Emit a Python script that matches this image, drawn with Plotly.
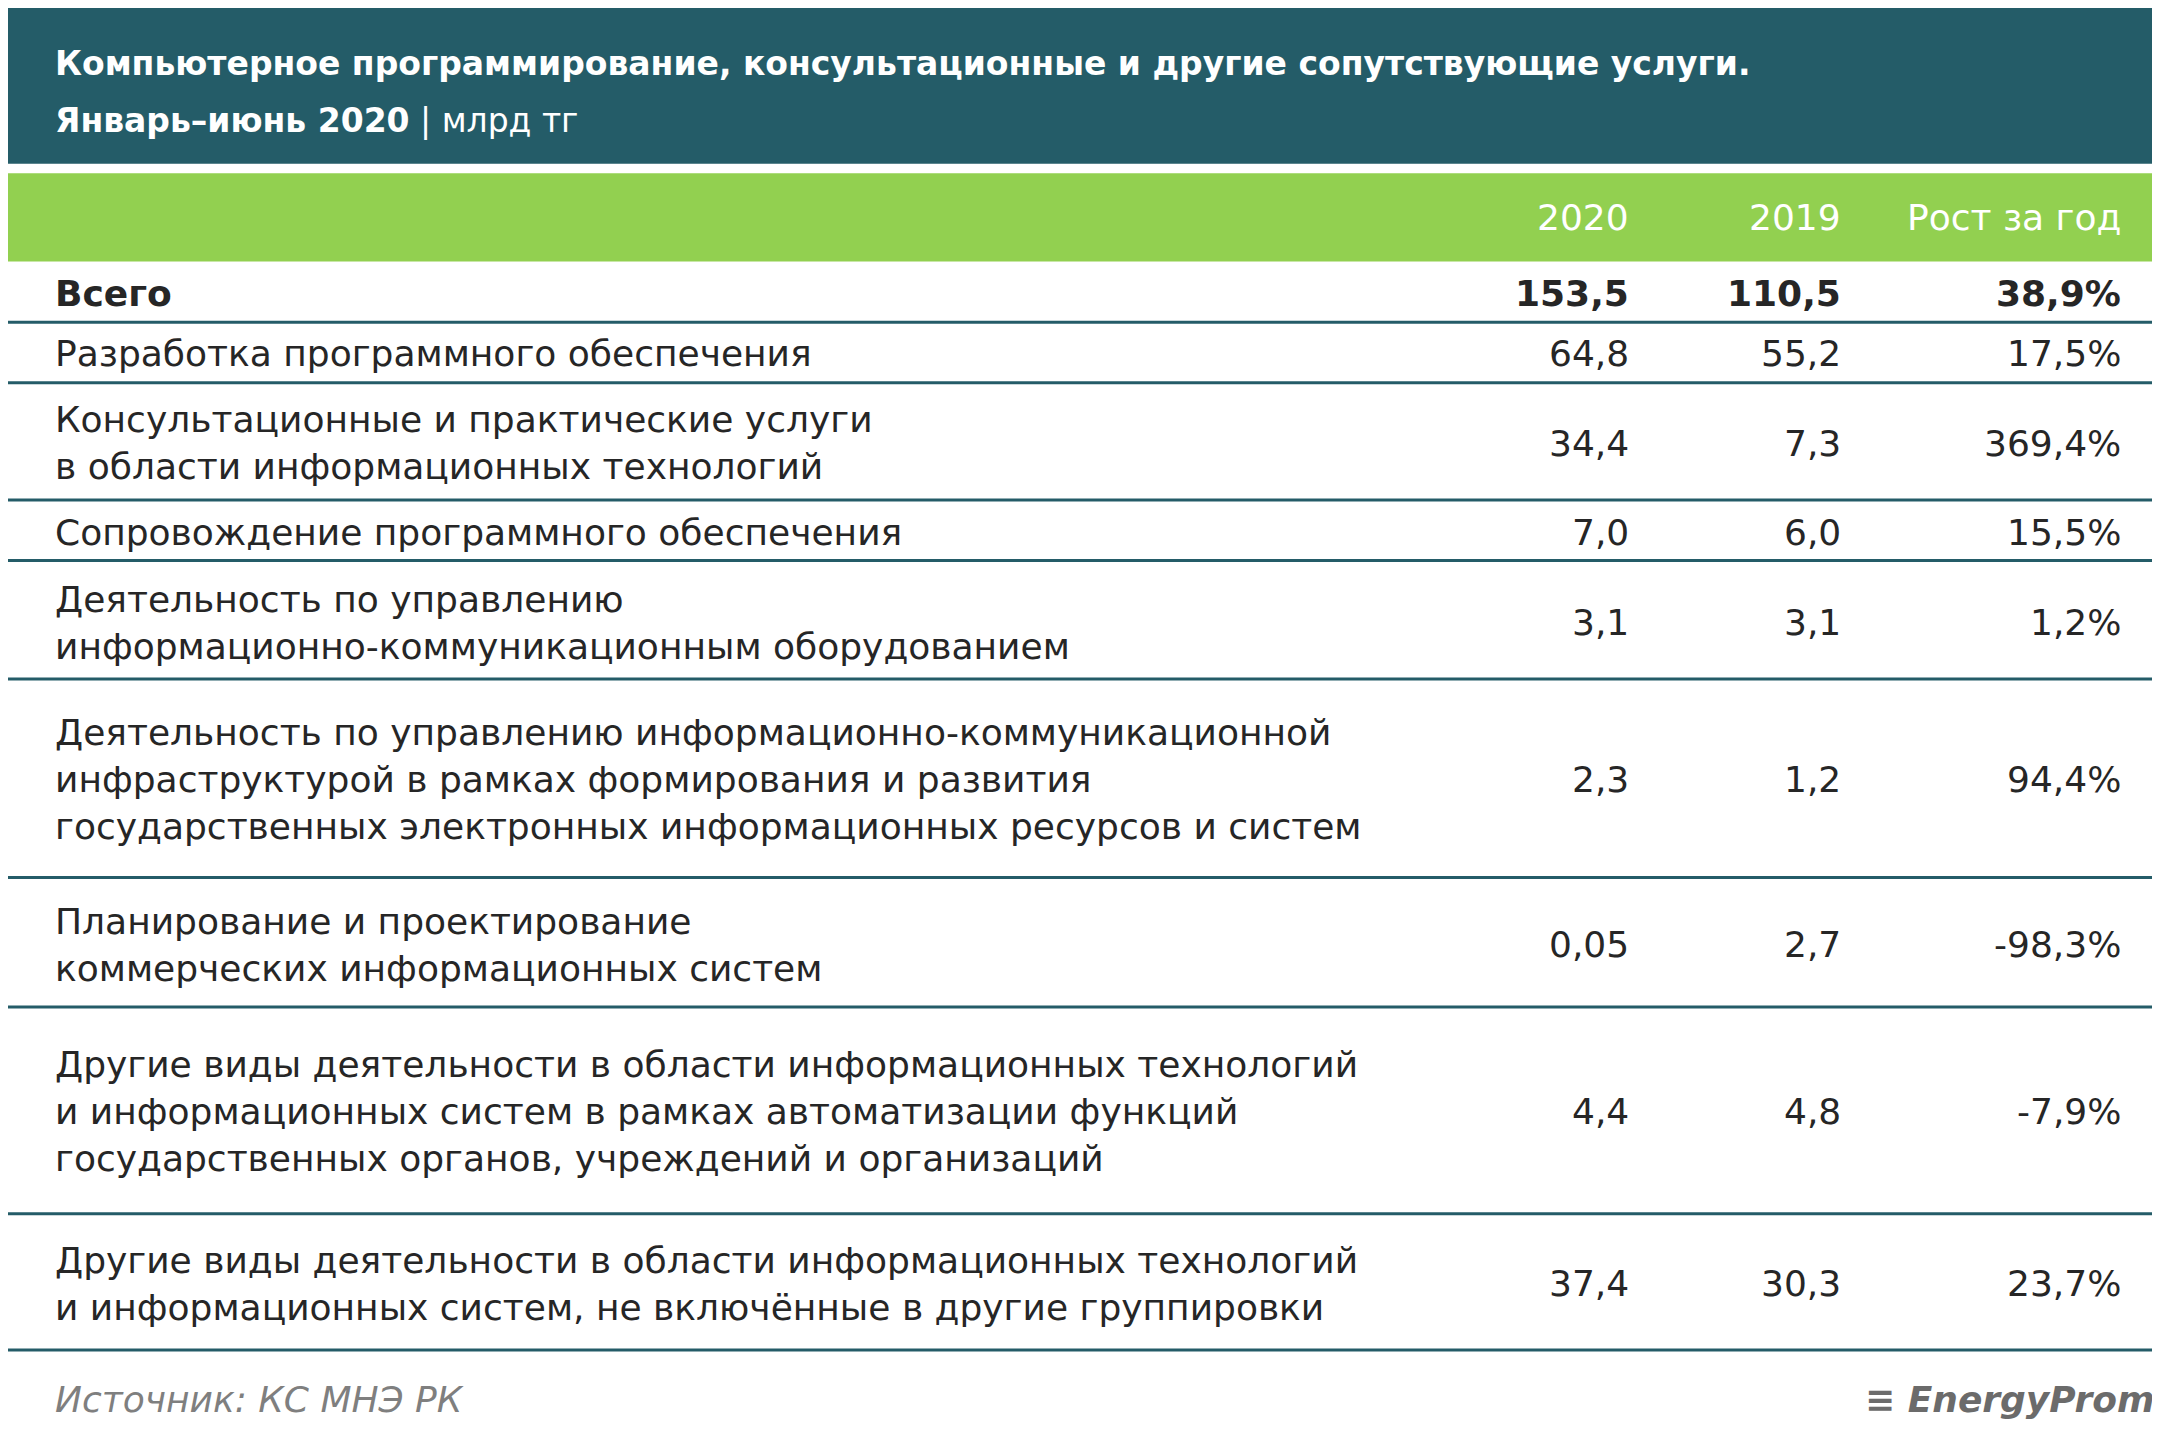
import plotly.graph_objects as go

# Данные таблицы
title_lines = ["Компьютерное программирование, консультационные и другие сопутствующие услуги.",
               "Январь–июнь 2020 | млрд тг"]
columns = ["2020", "2019", "Рост за год"]
categories = [
    "Всего",
    "Разработка программного обеспечения",
    "Консультационные и практические услуги<br>в области информационных технологий",
    "Сопровождение программного обеспечения",
    "Деятельность по управлению<br>информационно-коммуникационным оборудованием",
    "Деятельность по управлению информационно-коммуникационной<br>инфраструктурой в рамках формирования и развития<br>государственных электронных информационных ресурсов и систем",
    "Планирование и проектирование<br>коммерческих информационных систем",
    "Другие виды деятельности в области информационных технологий<br>и информационных систем в рамках автоматизации функций<br>государственных органов, учреждений и организаций",
    "Другие виды деятельности в области информационных технологий<br>и информационных систем, не включённые в другие группировки",
]
values_2020 = ["153,5", "64,8", "34,4", "7,0", "3,1", "2,3", "0,05", "4,4", "37,4"]
values_2019 = ["110,5", "55,2", "7,3", "6,0", "3,1", "1,2", "2,7", "4,8", "30,3"]
growth = ["38,9%", "17,5%", "369,4%", "15,5%", "1,2%", "94,4%", "-98,3%", "-7,9%", "23,7%"]
source = "Источник: КС МНЭ РК"

W, H = 1568.0, 1048.0  # координаты по эскизу
def px(x): return x / W
def py(y): return 1 - y / H

DARK = "#245c68"
GREEN = "#92d050"
TEXT = "#262626"
FONT = "DejaVu Sans"
FS = 36

# центры строк и линии под ними
row_centers = [207, 251, 316, 381, 446, 560, 680, 801, 926]
row_lines = [228, 272, 357, 401, 487, 631, 725, 875, 974]
col_right = [1178, 1332, 1535]

fig = go.Figure()
shapes = [
    dict(type="rect", xref="paper", yref="paper", x0=0, x1=1, y0=py(113), y1=1,
         fillcolor=DARK, line_width=0, layer="below"),
    dict(type="rect", xref="paper", yref="paper", x0=0, x1=1, y0=py(184), y1=py(120),
         fillcolor=GREEN, line_width=0, layer="below"),
    dict(type="line", xref="paper", yref="paper", x0=0, x1=1, y0=py(1044), y1=py(1044),
         line=dict(color=DARK, width=5)),
]
for yl in row_lines:
    shapes.append(dict(type="line", xref="paper", yref="paper", x0=0, x1=1,
                       y0=py(yl), y1=py(yl), line=dict(color=DARK, width=3)))

ann = []
ann.append(dict(x=px(33), y=py(40), text="<b>" + title_lines[0] + "</b>", xanchor="left",
                yanchor="middle", font=dict(color="white", size=33, family=FONT)))
ann.append(dict(x=px(33), y=py(82), text="<b>Январь–июнь 2020</b> | млрд тг", xanchor="left",
                yanchor="middle", font=dict(color="white", size=33, family=FONT)))
for c, xr in zip(columns, col_right):
    ann.append(dict(x=px(xr), y=py(152), text=c, xanchor="right", yanchor="middle",
                    font=dict(color="white", size=FS, family=FONT)))
for i, (cat, a, b, g) in enumerate(zip(categories, values_2020, values_2019, growth)):
    yc = py(row_centers[i])
    bold = i == 0
    for txt, xx, anchor in [(cat, px(33), "left"), (a, px(col_right[0]), "right"),
                            (b, px(col_right[1]), "right"), (g, px(col_right[2]), "right")]:
        ann.append(dict(x=xx, y=yc, text=f"<b>{txt}</b>" if bold else txt, xanchor=anchor,
                        yanchor="middle", align=anchor, font=dict(color=TEXT, size=FS, family=FONT)))
ann.append(dict(x=px(33), y=py(1010), text=f"<i>{source}</i>", xanchor="left", yanchor="middle",
                font=dict(color="#7f7f7f", size=FS, family=FONT)))
ann.append(dict(x=0.995, y=py(1010), text="<b><i>≡ EnergyProm</i></b>", xanchor="right", yanchor="middle",
                font=dict(color="#6b6b6b", size=36, family=FONT)))
for a in ann:
    a.update(xref="paper", yref="paper", showarrow=False)

fig.update_layout(width=2160, height=1444, margin=dict(l=0, r=0, t=0, b=0),
                  paper_bgcolor="white", plot_bgcolor="white", shapes=shapes, annotations=ann,
                  xaxis=dict(visible=False), yaxis=dict(visible=False))
fig.write_html("out.html")
